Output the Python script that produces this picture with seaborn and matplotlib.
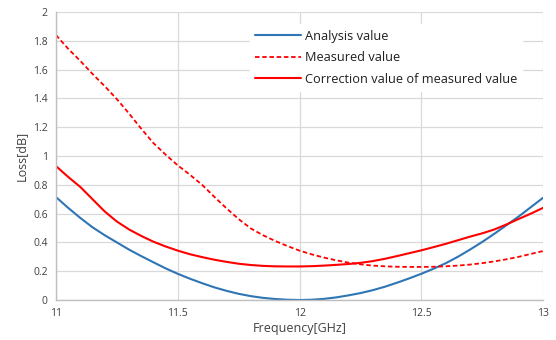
import numpy as np
import pandas as pd
import matplotlib
matplotlib.use("Agg")
import matplotlib.pyplot as plt
import seaborn as sns

freq = [11.00, 11.05, 11.10, 11.15, 11.20, 11.25, 11.30, 11.35, 11.40, 11.45,
        11.50, 11.55, 11.60, 11.65, 11.70, 11.75, 11.80, 11.85, 11.90, 11.95,
        12.00, 12.05, 12.10, 12.15, 12.20, 12.25, 12.30, 12.35, 12.40, 12.45,
        12.50, 12.55, 12.60, 12.65, 12.70, 12.75, 12.80, 12.85, 12.90, 12.95,
        13.00]
analysis = [0.715, 0.64, 0.57, 0.505, 0.45, 0.40, 0.35, 0.305, 0.262, 0.22,
            0.182, 0.148, 0.117, 0.088, 0.064, 0.043, 0.027, 0.015, 0.007, 0.002,
            0.0, 0.002, 0.008, 0.018, 0.032, 0.048, 0.068, 0.092, 0.12, 0.15,
            0.182, 0.217, 0.255, 0.30, 0.35, 0.403, 0.46, 0.52, 0.58, 0.645,
            0.71]
measured = [1.84, 1.745, 1.66, 1.57, 1.485, 1.395, 1.295, 1.19, 1.09, 1.01,
            0.935, 0.87, 0.80, 0.717, 0.637, 0.562, 0.497, 0.45, 0.41, 0.375,
            0.343, 0.317, 0.295, 0.276, 0.26, 0.248, 0.239, 0.234, 0.231, 0.23,
            0.23, 0.231, 0.234, 0.239, 0.246, 0.256, 0.268, 0.283, 0.30, 0.32,
            0.34]
corrected = [0.93, 0.855, 0.785, 0.70, 0.615, 0.545, 0.49, 0.445, 0.405, 0.372,
             0.343, 0.318, 0.298, 0.28, 0.265, 0.252, 0.243, 0.237, 0.234, 0.233,
             0.233, 0.235, 0.239, 0.244, 0.25, 0.258, 0.27, 0.286, 0.305, 0.325,
             0.345, 0.367, 0.39, 0.415, 0.44, 0.463, 0.49, 0.525, 0.563, 0.60,
             0.64]

df = pd.DataFrame({"freq": freq, "analysis": analysis,
                   "measured": measured, "corrected": corrected})

sns.set_style("white")
plt.rcParams['font.family'] = ['Open Sans', 'DejaVu Sans']

fig = plt.figure(figsize=(5.56, 3.4), dpi=100)
ax = fig.add_axes([0.1007, 0.1176, 0.876, 0.847])

sns.lineplot(data=df, x="freq", y="analysis", ax=ax, color="#2E75B6",
             linewidth=1.5, label="Analysis value")
sns.lineplot(data=df, x="freq", y="measured", ax=ax, color="#FF0000",
             linewidth=1.3, label="Measured value")
ax.lines[-1].set_dashes((2.5, 1.5))
sns.lineplot(data=df, x="freq", y="corrected", ax=ax, color="#FF0000",
             linewidth=1.5, label="Correction value of measured value")

ax.set_xlim(11, 13)
ax.set_ylim(0, 2)
ax.set_xticks([11, 11.5, 12, 12.5, 13])
ax.set_xticklabels(["11", "11.5", "12", "12.5", "13"])
ax.set_yticks(np.arange(0, 2.01, 0.2))
ax.set_yticklabels(["0", "0.2", "0.4", "0.6", "0.8", "1", "1.2", "1.4", "1.6", "1.8", "2"])
ax.tick_params(axis="both", labelsize=7.5, length=0, colors="#404040", pad=6)
ax.grid(True, color="#D9D9D9", linewidth=0.9)
ax.set_axisbelow(True)
for side in ["top", "right"]:
    ax.spines[side].set_visible(False)
for side in ["left", "bottom"]:
    ax.spines[side].set_color("#BFBFBF")
    ax.spines[side].set_linewidth(1.0)

ax.set_xlabel("Frequency[GHz]", fontsize=9, color="#404040", labelpad=2)
ax.set_ylabel("Loss[dB]", fontsize=9, color="#404040", labelpad=4)

leg = ax.legend(loc="upper left", bbox_to_anchor=(0.398, 0.957), fontsize=9.2,
                frameon=True, fancybox=False, edgecolor="white", framealpha=1,
                handlelength=3.6, handletextpad=0.3, labelspacing=0.68,
                borderpad=0.4, borderaxespad=0)
for t in leg.get_texts():
    t.set_color("#202020")

fig.savefig("out.png", dpi=100)
